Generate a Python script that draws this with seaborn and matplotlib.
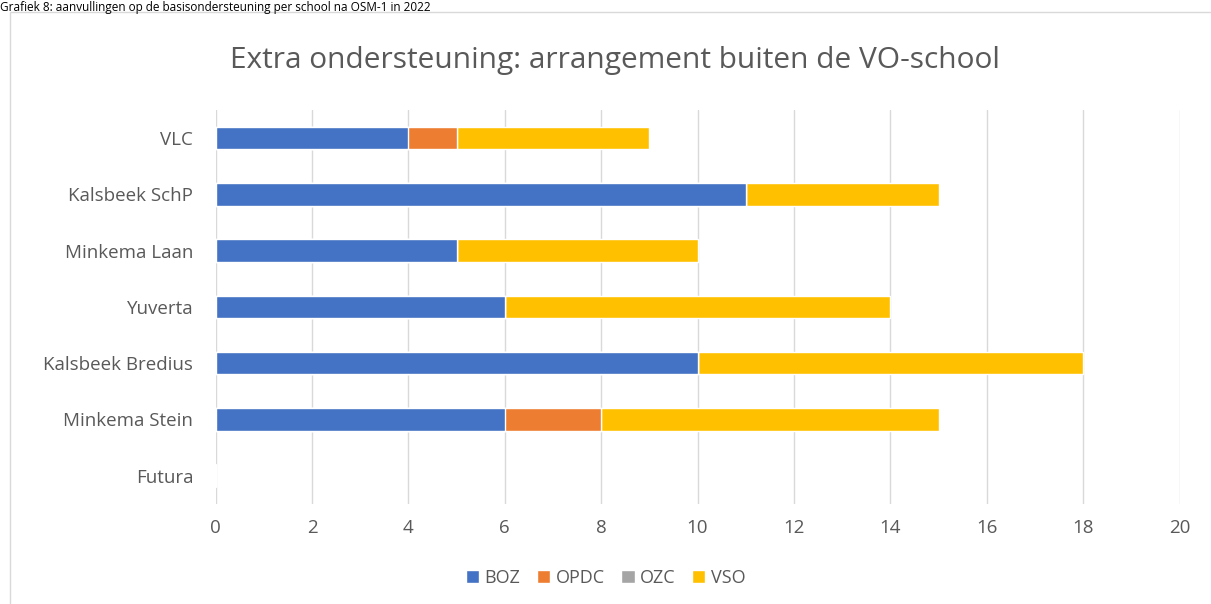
import matplotlib
matplotlib.use("Agg")
import matplotlib.pyplot as plt
import numpy as np
import pandas as pd
import seaborn as sns
from matplotlib.patches import Rectangle, Patch

# data
scholen = ['VLC', 'Kalsbeek SchP', 'Minkema Laan', 'Yuverta', 'Kalsbeek Bredius', 'Minkema Stein', 'Futura']
boz = [4, 11, 5, 6, 10, 6, 0]
opdc = [1, 0, 0, 0, 0, 2, 0]
ozc = [0, 0, 0, 0, 0, 0, 0]
vso = [4, 4, 5, 8, 8, 7, 0]

series = ['BOZ', 'OPDC', 'OZC', 'VSO']
kleuren = ['#4472c4', '#ed7d31', '#a5a5a5', '#ffc000']

sns.set_theme(style='white')
plt.rcParams['font.family'] = ['Open Sans', 'DejaVu Sans']
tekst = '#595959'

df = pd.DataFrame({'school': scholen, 'BOZ': boz, 'OPDC': opdc, 'OZC': ozc, 'VSO': vso})
cum = df[series].cumsum(axis=1)

fig = plt.figure(figsize=(12.11, 6.04), dpi=100)
ax = fig.add_axes([0.178, 0.166, 0.796, 0.652])

# stacked bars: draw cumulative totals from the top series down
for s, c in reversed(list(zip(series, kleuren))):
    sns.barplot(x=cum[s], y=df['school'], color=c, width=0.4, ax=ax,
                orient='h', saturation=1, zorder=3)

ax.set_xlim(0, 20)
ax.set_xticks(np.arange(0, 21, 2))
ax.grid(axis='x', color='#d9d9d9', linewidth=1, zorder=0)
ax.set_axisbelow(True)
for sp in ax.spines.values():
    sp.set_visible(False)
ax.set_xlabel('')
ax.set_ylabel('')
ax.tick_params(axis='both', length=0, labelsize=13.5, colors=tekst)
ax.tick_params(axis='y', pad=16)
ax.tick_params(axis='x', pad=11)

fig.text(0.508, 0.9, 'Extra ondersteuning: arrangement buiten de VO-school',
         ha='center', va='center', fontsize=21.5, color=tekst)

handles = [Patch(facecolor=c, label=s) for s, c in zip(series, kleuren)]
fig.legend(handles=handles, loc='center', bbox_to_anchor=(0.5, 0.043), ncol=4,
           frameon=False, fontsize=13, handlelength=0.75, handleheight=0.75,
           handletextpad=0.3, columnspacing=0.9, labelcolor=tekst)

# chart frame and caption above it
fig.patches.append(Rectangle((10 / 1211, -0.01), 1.1, 1 - 12 / 604 + 0.01,
                             transform=fig.transFigure, fill=False,
                             edgecolor='#d9d9d9', linewidth=1))
fig.text(0.0, 0.999, 'Grafiek 8: aanvullingen op de basisondersteuning per school na OSM-1 in 2022',
         ha='left', va='top', fontsize=8.5, color='black')

fig.savefig('out.png', dpi=100)
